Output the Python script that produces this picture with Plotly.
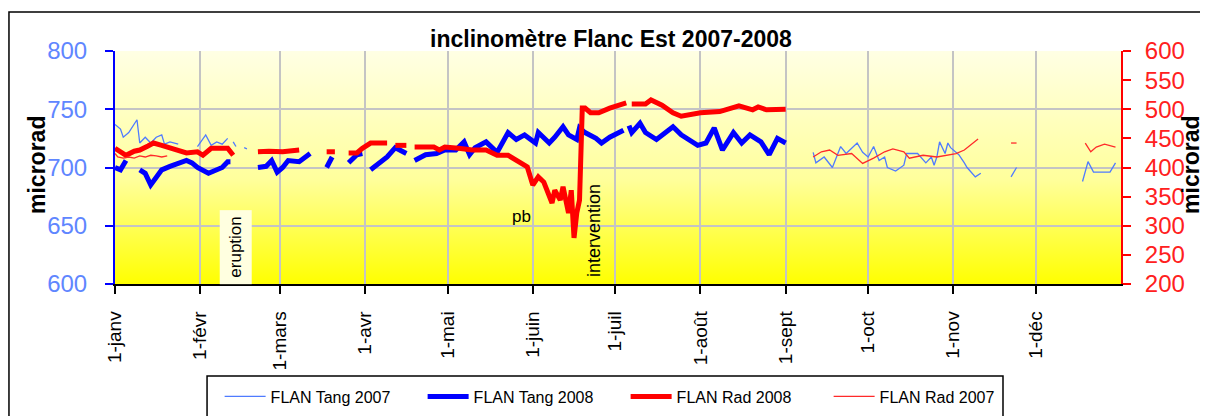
import base64
import plotly.graph_objects as go

# axis labels (x axis is one calendar year, 2007 and 2008 drawn on the same day-month)
month_ticks = ["2008-01-01", "2008-02-01", "2008-03-01", "2008-04-01", "2008-05-01", "2008-06-01",
               "2008-07-01", "2008-08-01", "2008-09-01", "2008-10-01", "2008-11-01", "2008-12-01"]
month_labels = ["1-janv", "1-févr", "1-mars", "1-avr", "1-mai", "1-juin",
                "1-juil", "1-août", "1-sept", "1-oct", "1-nov", "1-déc"]

# FLAN Tang 2007 (left axis)
tang2007_dates = ["2008-01-01", "2008-01-03", "2008-01-04", "2008-01-06", "2008-01-09", "2008-01-10",
                  "2008-01-12", "2008-01-14", "2008-01-16", "2008-01-18", "2008-01-19", "2008-01-21",
                  "2008-01-24", "2008-01-27",
                  "2008-01-31", "2008-02-03", "2008-02-05", "2008-02-07", "2008-02-09", "2008-02-11",
                  "2008-02-12", "2008-02-13", "2008-02-14", "2008-02-16", "2008-02-17", "2008-02-18",
                  "2008-02-20",
                  "2008-09-11", "2008-09-12", "2008-09-15", "2008-09-18", "2008-09-21", "2008-09-23",
                  "2008-09-27", "2008-09-29", "2008-10-01", "2008-10-03", "2008-10-05", "2008-10-07",
                  "2008-10-08", "2008-10-11", "2008-10-14", "2008-10-15", "2008-10-19", "2008-10-22",
                  "2008-10-24", "2008-10-25", "2008-10-26", "2008-10-27", "2008-10-29", "2008-10-30",
                  "2008-10-31", "2008-11-03", "2008-11-05", "2008-11-06", "2008-11-09", "2008-11-11",
                  "2008-11-16",
                  "2008-11-22", "2008-11-24", "2008-12-05",
                  "2008-12-18", "2008-12-20", "2008-12-22", "2008-12-25", "2008-12-28", "2008-12-30"]
tang2007_vals = [737, 733, 726, 730, 741, 721,
                 726, 721, 726, 728, 720, 722,
                 720, None,
                 718, 728, 719, 722, 720, 725,
                 None, 722, 718, None, 717, 716,
                 None,
                 713, 704, 709, 700, 718, 712,
                 721, 713, 709, 718, 706, 709,
                 700, 697, 702, 712, 712, 704,
                 709, 702, 709, 722, 712, 721,
                 717, 711, 704, 700, 692, 695,
                 None,
                 692, 700, None,
                 688, 705, 696, 696, 696, 704]

# FLAN Tang 2008 (left axis)
tang2008_dates = ["2008-01-01", "2008-01-03", "2008-01-05", "2008-01-07",
                  "2008-01-10", "2008-01-12", "2008-01-14", "2008-01-16", "2008-01-18", "2008-01-21",
                  "2008-01-24", "2008-01-27", "2008-01-29", "2008-01-31", "2008-02-04", "2008-02-07",
                  "2008-02-09", "2008-02-11", "2008-02-12", "2008-02-17",
                  "2008-02-22", "2008-02-25", "2008-02-27", "2008-02-29", "2008-03-02", "2008-03-04",
                  "2008-03-08", "2008-03-10", "2008-03-12", "2008-03-15",
                  "2008-03-18", "2008-03-20", "2008-03-23",
                  "2008-03-26", "2008-03-29", "2008-03-31", "2008-04-01",
                  "2008-04-03", "2008-04-07", "2008-04-09", "2008-04-12", "2008-04-16", "2008-04-17",
                  "2008-04-19", "2008-04-23", "2008-04-27", "2008-04-30", "2008-05-04", "2008-05-07",
                  "2008-05-09", "2008-05-11", "2008-05-15", "2008-05-19", "2008-05-23", "2008-05-26",
                  "2008-05-29", "2008-06-02", "2008-06-03", "2008-06-07", "2008-06-09", "2008-06-12",
                  "2008-06-14", "2008-06-17", "2008-06-18", "2008-06-20", "2008-06-24", "2008-06-26",
                  "2008-06-29", "2008-07-02", "2008-07-04", "2008-07-05",
                  "2008-07-06", "2008-07-07", "2008-07-10", "2008-07-12", "2008-07-16", "2008-07-19",
                  "2008-07-22", "2008-07-25", "2008-07-31", "2008-08-03", "2008-08-06", "2008-08-09",
                  "2008-08-13", "2008-08-16", "2008-08-19", "2008-08-23", "2008-08-26", "2008-08-29",
                  "2008-09-01"]
tang2008_vals = [700, 698, 706, None,
                 698, 695, 685, 692, 698, 701,
                 704, 706, 704, 700, 695, 698,
                 700, 705, 705, None,
                 700, 701, 706, 696, 700, 706,
                 705, 709, 712, None,
                 700, 709, None,
                 704, 711, 712, None,
                 698, 706, 709, 717, 712, None,
                 706, 711, 712, 715, 715, 722,
                 711, 717, 722, 713, 730, 724,
                 728, 721, 730, 721, 726, 735,
                 728, 724, 734, 730, 725, 721,
                 726, 730, 732, None,
                 736, 730, 738, 730, 724, 730,
                 735, 728, 719, 721, 734, 715,
                 730, 721, 728, 722, 711, 725,
                 721]

# FLAN Rad 2008 (right axis)
rad2008_dates = ["2008-01-01", "2008-01-03", "2008-01-05", "2008-01-08", "2008-01-10", "2008-01-13",
                 "2008-01-15", "2008-01-18", "2008-01-21", "2008-01-24", "2008-01-27", "2008-01-31",
                 "2008-02-02", "2008-02-05", "2008-02-09", "2008-02-11", "2008-02-13", "2008-02-17",
                 "2008-02-22", "2008-02-26", "2008-03-02", "2008-03-04", "2008-03-08", "2008-03-12",
                 "2008-03-18", "2008-03-21", "2008-03-23",
                 "2008-03-26", "2008-03-29", "2008-03-31", "2008-04-03", "2008-04-07", "2008-04-09",
                 "2008-04-10",
                 "2008-04-12", "2008-04-16", "2008-04-17",
                 "2008-04-19", "2008-04-26", "2008-04-28", "2008-04-30", "2008-05-05", "2008-05-10",
                 "2008-05-15", "2008-05-19", "2008-05-23", "2008-05-26", "2008-05-30", "2008-06-01",
                 "2008-06-03", "2008-06-05", "2008-06-08", "2008-06-09", "2008-06-11", "2008-06-12",
                 "2008-06-14", "2008-06-15", "2008-06-16", "2008-06-17", "2008-06-18", "2008-06-19",
                 "2008-06-20", "2008-06-22", "2008-06-25", "2008-06-29", "2008-07-03", "2008-07-05",
                 "2008-07-06",
                 "2008-07-07", "2008-07-12", "2008-07-14", "2008-07-18", "2008-07-22", "2008-07-25",
                 "2008-08-01", "2008-08-08", "2008-08-15", "2008-08-20", "2008-08-22", "2008-08-25",
                 "2008-09-01"]
rad2008_vals = [433, 427, 421, 428, 430, 437,
                442, 438, 433, 430, 425, 427,
                421, 433, 432, 433, 421, None,
                427, 428, 427, 428, 430, None,
                427, 427, None,
                425, 425, 433, 442, 442, 442,
                None,
                438, 438, None,
                435, 435, 430, 435, 433, 430,
                430, 421, 421, 413, 401, 370,
                384, 375, 339, 361, 344, 367,
                322, 361, 279, 322, 344, 502,
                502, 494, 494, 502, 507, 511,
                None,
                509, 509, 516, 507, 494, 488,
                494, 496, 506, 499, 504, 499,
                500]

# FLAN Rad 2007 (right axis)
rad2007_dates = ["2008-01-01", "2008-01-02", "2008-01-04", "2008-01-06", "2008-01-08", "2008-01-10",
                 "2008-01-12", "2008-01-14", "2008-01-16", "2008-01-18", "2008-01-20", "2008-01-25",
                 "2008-09-11", "2008-09-14", "2008-09-17", "2008-09-20", "2008-09-25", "2008-09-29",
                 "2008-10-03", "2008-10-07", "2008-10-10", "2008-10-14", "2008-10-16", "2008-10-21",
                 "2008-10-26", "2008-10-30", "2008-11-02", "2008-11-05", "2008-11-08", "2008-11-10",
                 "2008-11-16",
                 "2008-11-22", "2008-11-24", "2008-12-05",
                 "2008-12-19", "2008-12-21", "2008-12-23", "2008-12-26", "2008-12-30"]
rad2007_vals = [424, 418, 416, 418, 416, 420,
                418, 421, 420, 418, 420, None,
                418, 427, 430, 421, 424, 407,
                416, 427, 432, 427, 416, 421,
                418, 421, 424, 430, 442, 449,
                None,
                442, 442, None,
                442, 427, 435, 440, 435]

svg = ('<svg xmlns="http://www.w3.org/2000/svg" width="100" height="100" preserveAspectRatio="none">'
       '<defs><linearGradient id="g" x1="0" y1="0" x2="0" y2="1">'
       '<stop offset="0" stop-color="#FFFFE4"/><stop offset="0.55" stop-color="#FFFF9C"/>'
       '<stop offset="1" stop-color="#FFFF00"/></linearGradient></defs>'
       '<rect width="100" height="100" fill="url(#g)"/></svg>')
bg_src = "data:image/svg+xml;base64," + base64.b64encode(svg.encode()).decode()

fig = go.Figure()
fig.add_trace(go.Scatter(x=tang2007_dates, y=tang2007_vals, name="FLAN Tang 2007", mode="lines",
                         line=dict(color="#4F7BFF", width=1.3)))
fig.add_trace(go.Scatter(x=tang2008_dates, y=tang2008_vals, name="FLAN Tang 2008", mode="lines",
                         line=dict(color="#0000FF", width=5)))
fig.add_trace(go.Scatter(x=rad2008_dates, y=rad2008_vals, name="FLAN Rad 2008", mode="lines",
                         line=dict(color="#FF0000", width=5), yaxis="y2"))
fig.add_trace(go.Scatter(x=rad2007_dates, y=rad2007_vals, name="FLAN Rad 2007", mode="lines",
                         line=dict(color="#FF2A2A", width=1.3), yaxis="y2"))

font = "Liberation Sans, Arial, sans-serif"

# the page body adds an 8px margin, so the figure is 1200x408 inside the 1208x416 window
fig.update_layout(
    width=1200, height=408,
    margin=dict(l=107, r=87, t=43, b=132),
    paper_bgcolor="white",
    plot_bgcolor="rgba(0,0,0,0)",
    font=dict(family=font, color="black"),
    title=dict(text="<b>inclinomètre Flanc Est 2007-2008</b>", font=dict(size=23, color="black"),
               x=0.493, xref="paper", xanchor="center", y=0.924, yref="container", yanchor="middle",
               automargin=False),
    xaxis=dict(type="date", range=["2008-01-01", "2009-01-01"], tickvals=month_ticks,
               ticktext=month_labels, tickangle=-90, tickfont=dict(size=19, color="black"),
               showgrid=True, gridcolor="#C4C4C4", gridwidth=1.5, automargin=False,
               showline=True, linecolor="black", linewidth=1.5,
               ticks="outside", ticklen=8, tickcolor="black", tickwidth=1.5,
               ticklabelstandoff=10),
    yaxis=dict(range=[600, 800], dtick=50, tickfont=dict(size=24, color="#5F86FF"),
               showgrid=True, gridcolor="#C4C4C4", gridwidth=1.5, zeroline=False, automargin=False,
               showline=True, linecolor="#0000FF", linewidth=2,
               ticks="outside", ticklen=8, tickcolor="#0000FF", tickwidth=1.5,
               ticklabelstandoff=13),
    yaxis2=dict(range=[200, 600], dtick=50, overlaying="y", side="right",
                tickfont=dict(size=24, color="#FF2020"), showgrid=False, zeroline=False,
                showline=True, linecolor="#FF0000", linewidth=2, automargin=False,
                ticks="outside", ticklen=8, tickcolor="#FF0000", tickwidth=1.5,
                ticklabelstandoff=9),
    legend=dict(orientation="h", x=0.104, xanchor="left", xref="paper",
                y=0.0895, yanchor="top", yref="container",
                bgcolor="rgba(0,0,0,0)", font=dict(size=16, color="black"),
                entrywidth=147, entrywidthmode="pixels", itemwidth=41, traceorder="normal"),
    images=[dict(source=bg_src, xref="paper", yref="paper", x=0, y=1, sizex=1, sizey=1,
                 sizing="stretch", layer="below")],
    showlegend=True,
)

# chart border and legend box
fig.add_shape(type="rect", xref="paper", yref="paper", x0=-0.1054, x1=1.3, y0=-0.8, y1=1.167,
              line=dict(color="black", width=1.5), fillcolor="rgba(0,0,0,0)", layer="below")
fig.add_shape(type="rect", xref="paper", yref="paper", x0=0.0915, x1=0.8827, y0=-0.8, y1=-0.395,
              line=dict(color="black", width=1.5), fillcolor="rgba(0,0,0,0)", layer="below")

# axis titles
fig.add_annotation(text="<b>microrad</b>", xref="paper", yref="paper", x=-0.0775, y=0.511,
                   xanchor="center", yanchor="middle",
                   textangle=-90, showarrow=False, font=dict(size=23, color="black"))
fig.add_annotation(text="<b>microrad</b>", xref="paper", yref="paper", x=1.0696, y=0.511,
                   xanchor="center", yanchor="middle",
                   textangle=-90, showarrow=False, font=dict(size=23, color="black"))

# event labels
fig.add_annotation(text="eruption", x="2008-02-14", y=632, xref="x", yref="y", textangle=-90,
                   showarrow=False, bgcolor="#FFFFE0", borderpad=6, font=dict(size=17, color="black"))
fig.add_annotation(text="pb", x="2008-05-28", y=658, xref="x", yref="y",
                   showarrow=False, font=dict(size=17, color="black"))
fig.add_annotation(text="intervention", x="2008-06-23 12:00", y=646, xref="x", yref="y", textangle=-90,
                   showarrow=False, font=dict(size=18, color="black"))

fig.write_html("out.html")
